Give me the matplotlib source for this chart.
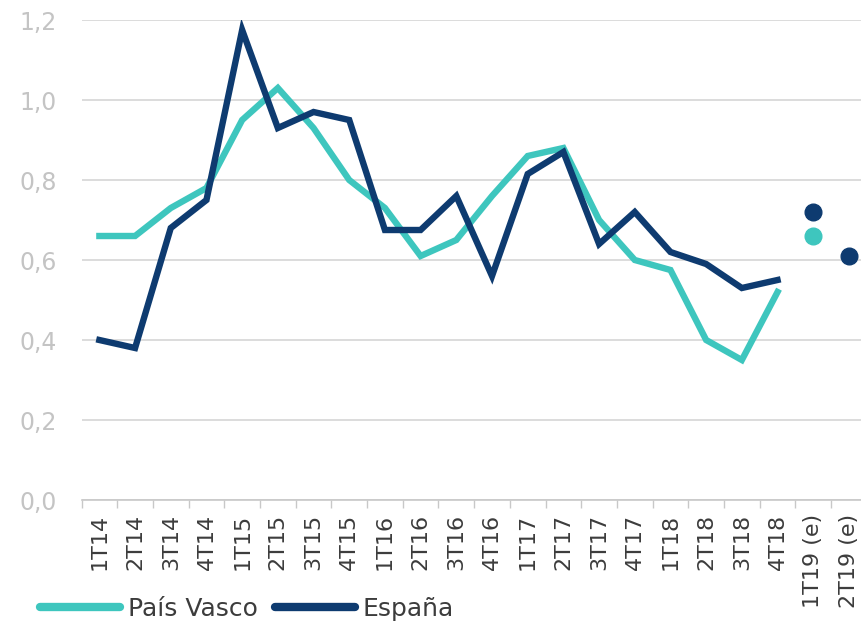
import numpy as np
import matplotlib
matplotlib.use("Agg")
import matplotlib.pyplot as plt

quarters = ["1T14", "2T14", "3T14", "4T14", "1T15", "2T15", "3T15", "4T15",
            "1T16", "2T16", "3T16", "4T16", "1T17", "2T17", "3T17", "4T17",
            "1T18", "2T18", "3T18", "4T18", "1T19 (e)", "2T19 (e)"]

# observed quarters (first 20)
pais_vasco = [0.66, 0.66, 0.73, 0.78, 0.95, 1.03, 0.93, 0.80,
              0.73, 0.61, 0.65, 0.76, 0.86, 0.88, 0.70, 0.60,
              0.575, 0.40, 0.35, 0.52]
espana = [0.40, 0.38, 0.68, 0.75, 1.175, 0.93, 0.97, 0.95,
          0.675, 0.675, 0.76, 0.56, 0.815, 0.87, 0.64, 0.72,
          0.62, 0.59, 0.53, 0.55]

# estimates (e)
pais_vasco_est = [0.66, None]
espana_est = [0.72, 0.61]

teal = "#3EC6BE"
navy = "#0E3B70"

fig = plt.figure(figsize=(8.61, 6.31), dpi=100)
ax = fig.add_axes([0.0947, 0.2076, 0.912, 0.7607])

x = np.arange(len(quarters))
n_obs = len(pais_vasco)

ax.plot(x[:n_obs], pais_vasco, color=teal, lw=4.6, solid_joinstyle="miter", label="País Vasco", zorder=3)
ax.plot(x[:n_obs], espana, color=navy, lw=4.6, solid_joinstyle="miter", label="España", zorder=4)

for i, v in enumerate(pais_vasco_est):
    if v is not None:
        ax.plot(x[n_obs + i], v, "o", color=teal, ms=12, zorder=3)
for i, v in enumerate(espana_est):
    if v is not None:
        ax.plot(x[n_obs + i], v, "o", color=navy, ms=12, zorder=4)

ax.set_xlim(-0.5, len(quarters) - 0.5)
ax.set_ylim(0, 1.2)
ax.set_yticks(np.arange(0, 1.21, 0.2))
ax.set_yticklabels([f"{v:.1f}".replace(".", ",") for v in np.arange(0, 1.21, 0.2)],
                   fontsize=17, color="#C4C4C4")
ax.yaxis.grid(True, color="#D6D6D6", lw=1.2)
ax.set_axisbelow(True)

ax.set_xticks(x)
ax.set_xticklabels(quarters, rotation=90, fontsize=16, color="#3C3C3C")
ax.set_xticks(np.arange(-0.5, len(quarters), 1), minor=True)
ax.tick_params(axis="x", which="major", length=0, pad=10)
ax.tick_params(axis="x", which="minor", length=6, color="#C8C8C8", width=1)
ax.tick_params(axis="y", length=0, pad=18)

for s in ["top", "right", "left"]:
    ax.spines[s].set_visible(False)
ax.spines["bottom"].set_color("#C8C8C8")
ax.spines["bottom"].set_linewidth(1.2)

leg = fig.legend(handles=ax.get_lines()[:2], loc="center left", bbox_to_anchor=(0.035, 0.035),
                 ncol=2, frameon=False, fontsize=18, handlelength=3.2,
                 handletextpad=0.3, columnspacing=0.7, borderaxespad=0)
for t in leg.get_texts():
    t.set_color("#3C3C3C")
for h in leg.legend_handles:
    h.set_solid_capstyle("round")
    h.set_linewidth(6)

fig.savefig("out.png", dpi=100)
